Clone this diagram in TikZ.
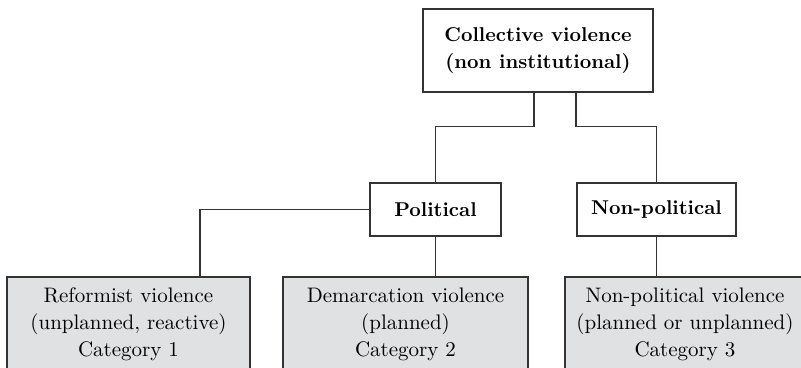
\documentclass[tikz,border=0pt]{standalone}
\usepackage{xcolor}
\definecolor{boxgrey}{HTML}{E0E1E3}
\definecolor{linegrey}{HTML}{333333}
\begin{document}
\begin{tikzpicture}[x=0.5pt,y=0.5pt,
  box/.style={draw=linegrey,line width=0.6pt,align=center,inner sep=0pt,
    font=\fontsize{10.5}{13.5}\selectfont},
  headbox/.style={box,font=\fontsize{10}{13.5}\selectfont\bfseries},
  catbox/.style={box,fill=boxgrey,minimum height=47.5pt},
  link/.style={draw=linegrey,line width=0.6pt}]
  % three-level classification tree
  \useasboundingbox (0,0) rectangle (801,368);
  \node[headbox,minimum width=115pt,minimum height=41.5pt] (top) at (538,317.5) {Collective violence\\(non institutional)};
  \node[headbox,minimum width=65.5pt,minimum height=26.5pt] (pol) at (435.5,158.5) {Political};
  \node[headbox,minimum width=79.5pt,minimum height=26.5pt] (nonpol) at (656.5,158.5) {Non-political};
  \node[catbox,minimum width=121.5pt] (cat1) at (128.5,43.5) {Reformist violence\\(unplanned, reactive)\\Category 1};
  \node[catbox,minimum width=122.5pt] (cat2) at (405.5,43.5) {Demarcation violence\\(planned)\\Category 2};
  \node[catbox,minimum width=120pt] (cat3) at (685,43.5) {Non-political violence\\(planned or unplanned)\\Category 3};
  \draw[link] ([xshift=-2pt]top.south) -- ++(0,-17pt) -| (pol.north);
  \draw[link] ([xshift=19pt]top.south) -- ++(0,-17pt) -| (nonpol.north);
  \draw[link] (pol.west) -| ([xshift=35.75pt]cat1.north);
  \draw[link] (pol.south) -- (pol.south |- cat2.north);
  \draw[link] (nonpol.south) -- (nonpol.south |- cat3.north);
\end{tikzpicture}
\end{document}
